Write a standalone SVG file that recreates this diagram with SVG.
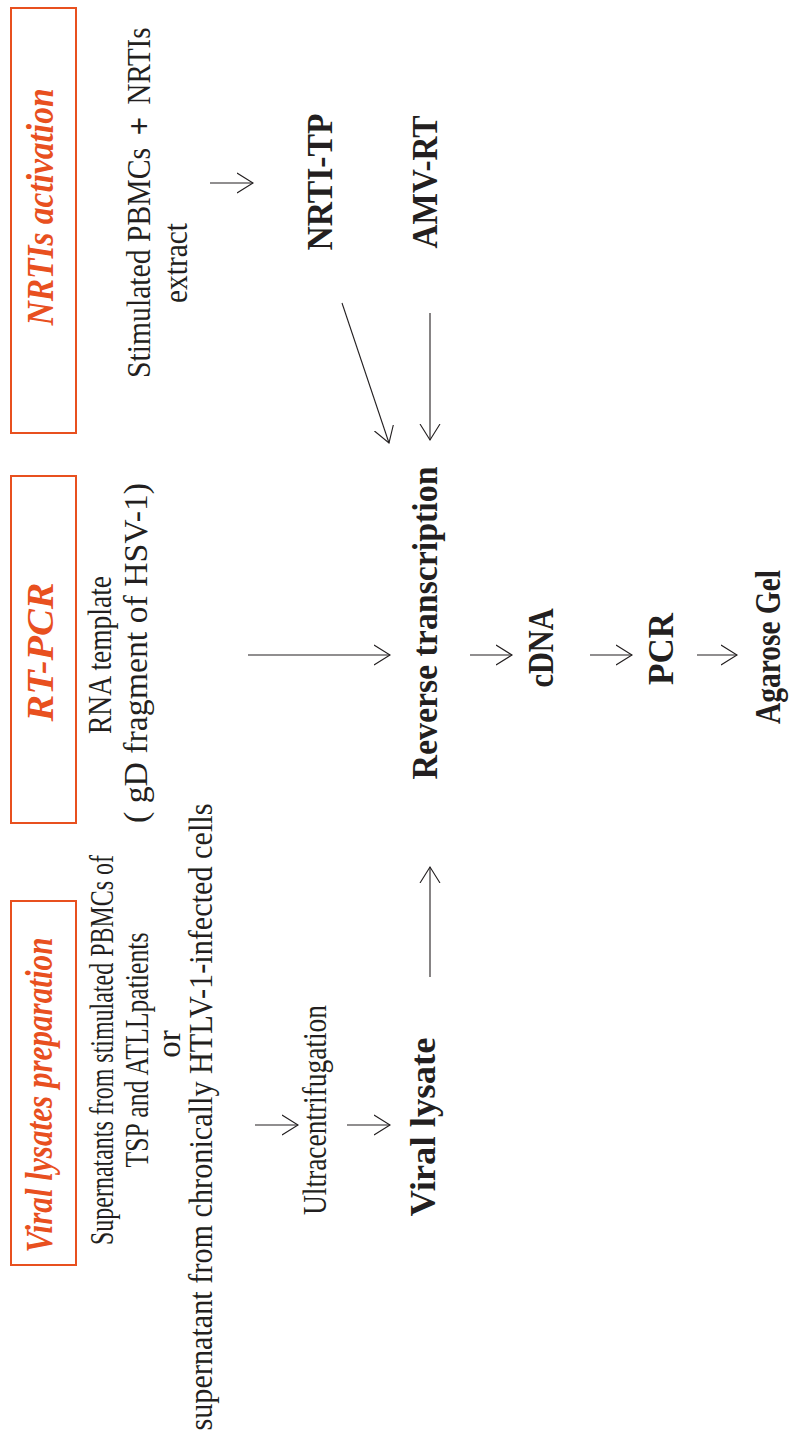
<svg xmlns="http://www.w3.org/2000/svg" width="790" height="1438" viewBox="0 0 790 1438">
<defs>
<style>
.box{fill:none;stroke:#E8501F;stroke-width:2}
.title{font-family:"Liberation Serif",serif;font-weight:bold;font-style:italic;font-size:38px;fill:#E8501F}
.reg{font-family:"Liberation Serif",serif;font-size:33px;fill:#231f20}
.bold{font-family:"Liberation Serif",serif;font-weight:bold;font-size:36px;fill:#231f20}
.conn line{stroke:#231f20;stroke-width:1.1;fill:none}
</style>
<marker id="ah" markerUnits="userSpaceOnUse" markerWidth="20" markerHeight="24" refX="16" refY="11" orient="auto">
<path d="M0,1 L16,11 L0,21" fill="none" stroke="#231f20" stroke-width="1.1"/>
</marker>
</defs>
<rect width="790" height="1438" fill="#ffffff"/>
<g id="box-nrtis">
<rect class="box" x="11" y="8" width="65" height="425"/>
<text class="title" text-anchor="middle" transform="translate(53,207) rotate(-90)" textLength="237" lengthAdjust="spacingAndGlyphs">NRTIs activation</text>
</g>
<g id="box-rtpcr">
<rect class="box" x="11" y="476" width="65" height="347"/>
<text class="title" text-anchor="middle" transform="translate(53,652) rotate(-90)" textLength="139" lengthAdjust="spacingAndGlyphs">RT-PCR</text>
</g>
<g id="box-viral">
<rect class="box" x="11" y="901" width="65" height="364"/>
<text class="title" text-anchor="middle" transform="translate(52,1095) rotate(-90)" textLength="315" lengthAdjust="spacingAndGlyphs">Viral lysates preparation</text>
</g>
<g id="node-stimulated">
<text class="reg" text-anchor="middle" transform="translate(150,263) rotate(-90)" textLength="230" lengthAdjust="spacingAndGlyphs">Stimulated PBMCs</text>
<text class="reg" text-anchor="middle" transform="translate(150,126) rotate(-90)" font-weight="bold">+</text>
<text class="reg" text-anchor="middle" transform="translate(150,66) rotate(-90)" textLength="77" lengthAdjust="spacingAndGlyphs">NRTIs</text>
<text class="reg" text-anchor="middle" transform="translate(187,263) rotate(-90)" textLength="80" lengthAdjust="spacingAndGlyphs">extract</text>
</g>
<g id="node-nrtitp">
<text class="bold" text-anchor="middle" transform="translate(332,182) rotate(-90)" textLength="137" lengthAdjust="spacingAndGlyphs">NRTI-TP</text>
</g>
<g id="node-amvrt">
<text class="bold" text-anchor="middle" transform="translate(437,182) rotate(-90)" textLength="133" lengthAdjust="spacingAndGlyphs">AMV-RT</text>
</g>
<g id="node-rna">
<text class="reg" text-anchor="middle" transform="translate(111,655) rotate(-90)" textLength="158" lengthAdjust="spacingAndGlyphs">RNA template</text>
<text class="reg" text-anchor="middle" transform="translate(147,653) rotate(-90)" textLength="340" lengthAdjust="spacingAndGlyphs">( gD fragment of HSV-1)</text>
</g>
<g id="node-rt">
<text class="bold" text-anchor="middle" transform="translate(437,623) rotate(-90)" textLength="313" lengthAdjust="spacingAndGlyphs">Reverse transcription</text>
</g>
<g id="node-cdna">
<text class="bold" text-anchor="middle" transform="translate(553,648) rotate(-90)" textLength="79" lengthAdjust="spacingAndGlyphs">cDNA</text>
</g>
<g id="node-pcr">
<text class="bold" text-anchor="middle" transform="translate(673,649) rotate(-90)" textLength="72" lengthAdjust="spacingAndGlyphs">PCR</text>
</g>
<g id="node-gel">
<text class="bold" text-anchor="middle" transform="translate(780,647) rotate(-90)" textLength="154" lengthAdjust="spacingAndGlyphs">Agarose Gel</text>
</g>
<g id="node-supernatants">
<text class="reg" text-anchor="middle" transform="translate(113,1050) rotate(-90)" textLength="390" lengthAdjust="spacingAndGlyphs">Supernatants from stimulated PBMCs  of</text>
<text class="reg" text-anchor="middle" transform="translate(148,1050) rotate(-90)" textLength="235" lengthAdjust="spacingAndGlyphs">TSP and ATLLpatients</text>
<text class="reg" text-anchor="middle" transform="translate(180,1044) rotate(-90)">or</text>
<text class="reg" text-anchor="middle" transform="translate(212,1117) rotate(-90)" textLength="627" lengthAdjust="spacingAndGlyphs">supernatant  from chronically HTLV-1-infected cells</text>
</g>
<g id="node-ultra">
<text class="reg" text-anchor="middle" transform="translate(326,1110) rotate(-90)" textLength="210" lengthAdjust="spacingAndGlyphs">Ultracentrifugation</text>
</g>
<g id="node-lysate">
<text class="bold" text-anchor="middle" transform="translate(435,1127) rotate(-90)" textLength="179" lengthAdjust="spacingAndGlyphs">Viral lysate</text>
</g>
<g id="connectors" class="conn">
<line x1="210" y1="183" x2="253" y2="183" marker-end="url(#ah)"/>
<line x1="342" y1="303" x2="389" y2="443" marker-end="url(#ah)"/>
<line x1="430" y1="313" x2="430" y2="440" marker-end="url(#ah)"/>
<line x1="248" y1="655" x2="390" y2="655" marker-end="url(#ah)"/>
<line x1="255" y1="1125" x2="298" y2="1125" marker-end="url(#ah)"/>
<line x1="347" y1="1125" x2="390" y2="1125" marker-end="url(#ah)"/>
<line x1="430" y1="977" x2="430" y2="867" marker-end="url(#ah)"/>
<line x1="470" y1="655" x2="512" y2="655" marker-end="url(#ah)"/>
<line x1="590" y1="655" x2="632" y2="655" marker-end="url(#ah)"/>
<line x1="697" y1="655" x2="737" y2="655" marker-end="url(#ah)"/>
</g>
</svg>
